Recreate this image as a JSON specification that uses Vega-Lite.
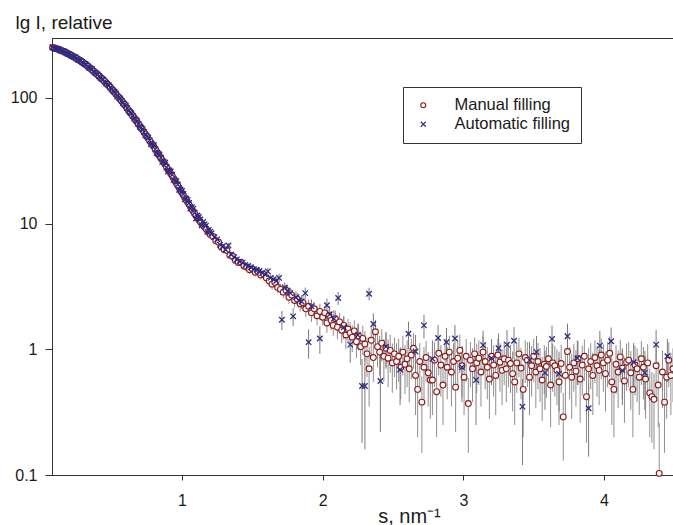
{
  "$schema": "https://vega.github.io/schema/vega-lite/v6.json",
  "width": 621,
  "height": 437,
  "autosize": {"type": "none"},
  "padding": {"left": 52, "top": 38, "right": 0, "bottom": 50},
  "background": "white",
  "config": {
    "font": "Liberation Sans",
    "view": {"stroke": "#333", "strokeWidth": 1},
    "axis": {"grid": false, "domainColor": "#333", "tickColor": "#333", "labelColor": "#1a1a1a", "titleColor": "#1a1a1a", "labelFont": "Liberation Sans", "titleFont": "Liberation Sans", "titleFontWeight": "normal", "labelFontSize": 16, "domainWidth": 1, "tickWidth": 1},
    "legend": {"labelFont": "Liberation Sans"}
  },
  "datasets": {
    "manual": [
      {"s":0.08,"v":252},{"s":0.10,"v":248},{"s":0.12,"v":244},{"s":0.14,"v":239},{"s":0.16,"v":234},{"s":0.18,"v":228},{"s":0.20,"v":222},{"s":0.22,"v":216},{"s":0.24,"v":210},{"s":0.26,"v":203},{"s":0.28,"v":197},{"s":0.30,"v":190},{"s":0.32,"v":183},{"s":0.34,"v":175},{"s":0.36,"v":168},{"s":0.38,"v":160},{"s":0.40,"v":153},{"s":0.42,"v":146},{"s":0.44,"v":139},{"s":0.46,"v":132},{"s":0.48,"v":125},{"s":0.50,"v":118},{"s":0.52,"v":111},{"s":0.54,"v":104},{"s":0.56,"v":98},{"s":0.58,"v":92},{"s":0.60,"v":86},{"s":0.62,"v":80},{"s":0.64,"v":74.5},{"s":0.66,"v":69.5},{"s":0.68,"v":64.5},{"s":0.70,"v":60},{"s":0.72,"v":55.5},{"s":0.74,"v":51.5},{"s":0.76,"v":47.5},{"s":0.78,"v":44},{"s":0.80,"v":41},{"s":0.82,"v":37.5},{"s":0.84,"v":34.5},{"s":0.86,"v":32},{"s":0.88,"v":29.5},{"s":0.90,"v":27},{"s":0.92,"v":25},{"s":0.94,"v":23},{"s":0.96,"v":21},{"s":0.98,"v":19.2},{"s":1.00,"v":17.5},{"s":1.02,"v":16.1},{"s":1.04,"v":14.8},{"s":1.06,"v":13.6},{"s":1.08,"v":12.5},{"s":1.10,"v":11.5},{"s":1.12,"v":10.7},{"s":1.14,"v":10.0},{"s":1.16,"v":9.4},{"s":1.18,"v":8.8},
      {"s":0.09,"v":250},{"s":0.11,"v":246},{"s":0.13,"v":241.5},{"s":0.15,"v":236.5},{"s":0.17,"v":231},{"s":0.19,"v":225},{"s":0.21,"v":219},{"s":0.23,"v":213},{"s":0.25,"v":206.5},{"s":0.27,"v":200},{"s":0.29,"v":193.5},{"s":0.31,"v":186.5},{"s":0.33,"v":179},{"s":0.35,"v":171.5},{"s":0.37,"v":164},{"s":0.39,"v":156.5},{"s":0.41,"v":149.5},{"s":0.43,"v":142.5},{"s":0.45,"v":135.5},{"s":0.47,"v":128.5},{"s":0.49,"v":121.5},{"s":0.51,"v":114.5},{"s":0.53,"v":107.5},{"s":0.55,"v":101},{"s":0.57,"v":95},{"s":0.59,"v":89},{"s":0.61,"v":83},{"s":0.63,"v":77.2},{"s":0.65,"v":72},{"s":0.67,"v":67},{"s":0.69,"v":62.2},{"s":0.71,"v":57.7},{"s":0.73,"v":53.5},{"s":0.75,"v":49.5},{"s":0.77,"v":45.7},{"s":0.79,"v":42.5},{"s":0.81,"v":39.2},{"s":0.83,"v":36},{"s":0.85,"v":33.2},{"s":0.87,"v":30.7},{"s":0.89,"v":28.2},{"s":0.91,"v":26},{"s":0.93,"v":24},{"s":0.95,"v":22},{"s":0.97,"v":20.1},{"s":0.99,"v":18.3},{"s":1.01,"v":16.8},{"s":1.03,"v":15.4},{"s":1.05,"v":14.2},{"s":1.07,"v":13},{"s":1.09,"v":12},{"s":1.11,"v":11.1},{"s":1.13,"v":10.35},{"s":1.15,"v":9.7},{"s":1.17,"v":9.1},{"s":1.19,"v":8.55},
      {"s":1.20,"v":8.2,"lo":7.9,"hi":8.5},{"s":1.22,"v":7.9,"lo":7.6,"hi":8.2},{"s":1.24,"v":7.3,"lo":7.0,"hi":7.6},{"s":1.26,"v":7.1,"lo":6.8,"hi":7.4},{"s":1.28,"v":6.5,"lo":6.2,"hi":6.8},{"s":1.30,"v":6.2,"lo":5.9,"hi":6.5},{"s":1.32,"v":6.1,"lo":5.8,"hi":6.4},{"s":1.34,"v":5.6,"lo":5.3,"hi":5.9},{"s":1.36,"v":5.5,"lo":5.2,"hi":5.8},{"s":1.38,"v":5.1,"lo":4.8,"hi":5.4},{"s":1.40,"v":4.9,"lo":4.6,"hi":5.2},{"s":1.42,"v":4.9,"lo":4.6,"hi":5.2},{"s":1.44,"v":4.6,"lo":4.3,"hi":4.9},{"s":1.46,"v":4.5,"lo":4.2,"hi":4.8},{"s":1.48,"v":4.3,"lo":4.0,"hi":4.6},{"s":1.50,"v":4.35,"lo":4.05,"hi":4.65},{"s":1.52,"v":4.1,"lo":3.8,"hi":4.4},{"s":1.54,"v":4.15,"lo":3.85,"hi":4.45},{"s":1.56,"v":3.9,"lo":3.6,"hi":4.2},{"s":1.58,"v":3.95,"lo":3.65,"hi":4.25},{"s":1.60,"v":3.7,"lo":3.4,"hi":4.0},{"s":1.62,"v":3.5,"lo":3.2,"hi":3.8},{"s":1.64,"v":3.3,"lo":3.0,"hi":3.6},{"s":1.66,"v":3.4,"lo":3.1,"hi":3.7},{"s":1.68,"v":3.1,"lo":2.8,"hi":3.4},{"s":1.70,"v":3.0,"lo":2.7,"hi":3.3},{"s":1.72,"v":2.85,"lo":2.55,"hi":3.15},{"s":1.74,"v":2.95,"lo":2.65,"hi":3.25},{"s":1.76,"v":2.6,"lo":2.3,"hi":2.9},{"s":1.78,"v":2.7,"lo":2.4,"hi":3.0},{"s":1.80,"v":2.45,"lo":2.15,"hi":2.75},{"s":1.82,"v":2.5,"lo":2.2,"hi":2.8},{"s":1.84,"v":2.3,"lo":2.0,"hi":2.6},{"s":1.86,"v":2.35,"lo":2.05,"hi":2.65},{"s":1.88,"v":2.1,"lo":1.8,"hi":2.4},{"s":1.90,"v":2.2,"lo":1.9,"hi":2.5},{"s":1.92,"v":1.95,"lo":1.65,"hi":2.25},{"s":1.94,"v":2.1,"lo":1.8,"hi":2.4},{"s":1.96,"v":1.85,"lo":1.55,"hi":2.15},{"s":1.98,"v":2.0,"lo":1.7,"hi":2.3},
      {"s":2.000,"v":1.80,"lo":1.55,"hi":2.05},{"s":2.015,"v":1.95,"lo":1.7,"hi":2.2},{"s":2.030,"v":1.62,"lo":1.35,"hi":1.89},{"s":2.045,"v":1.85,"lo":1.6,"hi":2.1},{"s":2.060,"v":1.70,"lo":1.42,"hi":1.98},{"s":2.075,"v":1.55,"lo":1.28,"hi":1.82},{"s":2.090,"v":1.75,"lo":1.47,"hi":2.03},{"s":2.105,"v":1.50,"lo":1.2,"hi":1.8},{"s":2.120,"v":1.65,"lo":1.35,"hi":1.95},{"s":2.135,"v":1.42,"lo":1.12,"hi":1.72},{"s":2.150,"v":1.55,"lo":1.25,"hi":1.85},{"s":2.165,"v":1.30,"lo":1.0,"hi":1.6},{"s":2.180,"v":1.45,"lo":1.15,"hi":1.75},{"s":2.195,"v":1.35,"lo":1.05,"hi":1.65},{"s":2.210,"v":1.25,"lo":0.95,"hi":1.55},{"s":2.225,"v":1.40,"lo":1.1,"hi":1.7},{"s":2.240,"v":1.15,"lo":0.85,"hi":1.45},{"s":2.255,"v":1.28,"lo":0.98,"hi":1.58},{"s":2.270,"v":1.05,"lo":0.75,"hi":1.35},{"s":2.285,"v":1.22,"lo":0.9,"hi":1.54},{"s":2.300,"v":1.10,"lo":0.8,"hi":1.4},{"s":2.315,"v":0.92,"lo":0.6,"hi":1.24},{"s":2.330,"v":0.70,"lo":0.35,"hi":1.05},{"s":2.345,"v":1.18,"lo":0.85,"hi":1.51},{"s":2.360,"v":0.86,"lo":0.55,"hi":1.17},{"s":2.375,"v":1.38,"lo":1.05,"hi":1.71},{"s":2.390,"v":1.05,"lo":0.72,"hi":1.38},{"s":2.405,"v":0.95,"lo":0.62,"hi":1.28},{"s":2.420,"v":1.12,"lo":0.8,"hi":1.44},{"s":2.435,"v":0.88,"lo":0.55,"hi":1.21},{"s":2.450,"v":1.02,"lo":0.7,"hi":1.34},{"s":2.465,"v":0.85,"lo":0.5,"hi":1.2},{"s":2.480,"v":0.98,"lo":0.65,"hi":1.31},{"s":2.495,"v":0.78,"lo":0.45,"hi":1.11},{"s":2.510,"v":0.92,"lo":0.6,"hi":1.24},{"s":2.525,"v":0.80,"lo":0.48,"hi":1.12},{"s":2.540,"v":0.88,"lo":0.55,"hi":1.21},{"s":2.555,"v":0.72,"lo":0.4,"hi":1.04},{"s":2.570,"v":0.95,"lo":0.62,"hi":1.28},{"s":2.585,"v":0.76,"lo":0.44,"hi":1.08},{"s":2.600,"v":0.84,"lo":0.5,"hi":1.18},{"s":2.615,"v":0.70,"lo":0.38,"hi":1.02},{"s":2.630,"v":0.90,"lo":0.58,"hi":1.22},{"s":2.645,"v":1.02,"lo":0.7,"hi":1.34},{"s":2.660,"v":0.62,"lo":0.3,"hi":0.94},{"s":2.675,"v":0.48,"lo":0.2,"hi":0.76},{"s":2.690,"v":0.80,"lo":0.48,"hi":1.12},{"s":2.705,"v":0.38,"lo":0.15,"hi":0.61},{"s":2.720,"v":0.72,"lo":0.4,"hi":1.04},{"s":2.735,"v":0.86,"lo":0.55,"hi":1.17},{"s":2.750,"v":0.65,"lo":0.35,"hi":0.95},{"s":2.765,"v":0.57,"lo":0.28,"hi":0.86},{"s":2.780,"v":0.57,"lo":0.3,"hi":0.84},{"s":2.795,"v":0.82,"lo":0.5,"hi":1.14},{"s":2.810,"v":0.46,"lo":0.2,"hi":0.72},{"s":2.825,"v":0.93,"lo":0.62,"hi":1.24},{"s":2.840,"v":0.75,"lo":0.42,"hi":1.08},{"s":2.855,"v":0.52,"lo":0.25,"hi":0.79},{"s":2.870,"v":0.88,"lo":0.55,"hi":1.21},{"s":2.885,"v":0.72,"lo":0.4,"hi":1.04},{"s":2.900,"v":0.95,"lo":0.62,"hi":1.28},{"s":2.915,"v":0.66,"lo":0.35,"hi":0.97},{"s":2.930,"v":0.80,"lo":0.48,"hi":1.12},{"s":2.945,"v":0.50,"lo":0.22,"hi":0.78},{"s":2.960,"v":0.85,"lo":0.52,"hi":1.18},{"s":2.975,"v":0.98,"lo":0.65,"hi":1.31},{"s":2.990,"v":0.74,"lo":0.42,"hi":1.06},{"s":3.005,"v":0.60,"lo":0.3,"hi":0.9},{"s":3.020,"v":0.88,"lo":0.55,"hi":1.21},{"s":3.035,"v":0.37,"lo":0.15,"hi":0.59},{"s":3.050,"v":0.82,"lo":0.5,"hi":1.14},{"s":3.065,"v":0.70,"lo":0.38,"hi":1.02},{"s":3.080,"v":0.92,"lo":0.6,"hi":1.24},{"s":3.095,"v":0.78,"lo":0.45,"hi":1.11},{"s":3.110,"v":0.85,"lo":0.52,"hi":1.18},{"s":3.125,"v":0.66,"lo":0.35,"hi":0.97},{"s":3.140,"v":0.95,"lo":0.62,"hi":1.28},{"s":3.155,"v":0.80,"lo":0.48,"hi":1.12},{"s":3.170,"v":0.72,"lo":0.4,"hi":1.04},{"s":3.185,"v":0.58,"lo":0.28,"hi":0.88},{"s":3.200,"v":0.88,"lo":0.55,"hi":1.21},{"s":3.215,"v":0.75,"lo":0.42,"hi":1.08},{"s":3.230,"v":0.62,"lo":0.3,"hi":0.94},{"s":3.245,"v":0.90,"lo":0.58,"hi":1.22},{"s":3.260,"v":0.79,"lo":0.46,"hi":1.12},{"s":3.275,"v":0.68,"lo":0.36,"hi":1.0},{"s":3.290,"v":0.84,"lo":0.52,"hi":1.16},{"s":3.305,"v":0.70,"lo":0.38,"hi":1.02},{"s":3.320,"v":0.82,"lo":0.5,"hi":1.14},{"s":3.335,"v":0.77,"lo":0.45,"hi":1.09},{"s":3.350,"v":0.64,"lo":0.32,"hi":0.96},{"s":3.365,"v":0.55,"lo":0.25,"hi":0.85},{"s":3.380,"v":0.78,"lo":0.45,"hi":1.11},{"s":3.395,"v":0.92,"lo":0.6,"hi":1.24},{"s":3.410,"v":0.71,"lo":0.4,"hi":1.02},{"s":3.425,"v":0.48,"lo":0.2,"hi":0.76},{"s":3.440,"v":0.86,"lo":0.54,"hi":1.18},{"s":3.455,"v":0.82,"lo":0.5,"hi":1.14},{"s":3.470,"v":0.60,"lo":0.3,"hi":0.9},{"s":3.485,"v":0.74,"lo":0.42,"hi":1.06},{"s":3.500,"v":0.88,"lo":0.55,"hi":1.21},{"s":3.515,"v":0.66,"lo":0.34,"hi":0.98},{"s":3.530,"v":0.80,"lo":0.48,"hi":1.12},{"s":3.545,"v":0.70,"lo":0.38,"hi":1.02},{"s":3.560,"v":0.57,"lo":0.27,"hi":0.87},{"s":3.575,"v":0.76,"lo":0.44,"hi":1.08},{"s":3.590,"v":0.73,"lo":0.41,"hi":1.05},{"s":3.605,"v":0.84,"lo":0.52,"hi":1.16},{"s":3.620,"v":0.52,"lo":0.24,"hi":0.8},{"s":3.635,"v":0.78,"lo":0.46,"hi":1.1},{"s":3.650,"v":0.74,"lo":0.42,"hi":1.06},{"s":3.665,"v":0.68,"lo":0.36,"hi":1.0},{"s":3.680,"v":0.55,"lo":0.25,"hi":0.85},{"s":3.695,"v":0.77,"lo":0.45,"hi":1.09},{"s":3.710,"v":0.29,"lo":0.13,"hi":0.45},{"s":3.725,"v":0.62,"lo":0.3,"hi":0.94},{"s":3.740,"v":0.96,"lo":0.64,"hi":1.28},{"s":3.755,"v":0.72,"lo":0.4,"hi":1.04},{"s":3.770,"v":0.60,"lo":0.28,"hi":0.92},{"s":3.785,"v":0.78,"lo":0.46,"hi":1.1},{"s":3.800,"v":0.67,"lo":0.35,"hi":0.99},{"s":3.815,"v":0.84,"lo":0.52,"hi":1.16},{"s":3.830,"v":0.58,"lo":0.26,"hi":0.9},{"s":3.845,"v":0.75,"lo":0.43,"hi":1.07},{"s":3.860,"v":0.88,"lo":0.56,"hi":1.2},{"s":3.875,"v":0.42,"lo":0.18,"hi":0.66},{"s":3.890,"v":0.70,"lo":0.38,"hi":1.02},{"s":3.905,"v":0.80,"lo":0.48,"hi":1.12},{"s":3.920,"v":0.62,"lo":0.3,"hi":0.94},{"s":3.935,"v":0.86,"lo":0.54,"hi":1.18},{"s":3.950,"v":0.74,"lo":0.42,"hi":1.06},{"s":3.965,"v":0.68,"lo":0.36,"hi":1.0},{"s":3.980,"v":0.90,"lo":0.58,"hi":1.22},{"s":3.995,"v":0.78,"lo":0.46,"hi":1.1},{"s":4.010,"v":0.64,"lo":0.32,"hi":0.96},{"s":4.025,"v":0.82,"lo":0.5,"hi":1.14},{"s":4.040,"v":0.93,"lo":0.6,"hi":1.26},{"s":4.055,"v":0.55,"lo":0.25,"hi":0.85},{"s":4.070,"v":0.48,"lo":0.2,"hi":0.76},{"s":4.085,"v":0.76,"lo":0.44,"hi":1.08},{"s":4.100,"v":0.66,"lo":0.34,"hi":0.98},{"s":4.115,"v":0.87,"lo":0.55,"hi":1.19},{"s":4.130,"v":0.71,"lo":0.4,"hi":1.02},{"s":4.145,"v":0.56,"lo":0.26,"hi":0.86},{"s":4.160,"v":0.79,"lo":0.47,"hi":1.11},{"s":4.175,"v":0.82,"lo":0.5,"hi":1.14},{"s":4.190,"v":0.65,"lo":0.33,"hi":0.97},{"s":4.205,"v":0.48,"lo":0.2,"hi":0.76},{"s":4.220,"v":0.75,"lo":0.43,"hi":1.07},{"s":4.235,"v":0.70,"lo":0.38,"hi":1.02},{"s":4.250,"v":0.60,"lo":0.3,"hi":0.9},{"s":4.265,"v":0.84,"lo":0.52,"hi":1.16},{"s":4.280,"v":0.72,"lo":0.4,"hi":1.04},{"s":4.295,"v":0.58,"lo":0.28,"hi":0.88},{"s":4.310,"v":0.78,"lo":0.46,"hi":1.1},{"s":4.325,"v":0.45,"lo":0.2,"hi":0.7},{"s":4.340,"v":0.42,"lo":0.18,"hi":0.66},{"s":4.355,"v":0.40,"lo":0.16,"hi":0.64},{"s":4.370,"v":0.74,"lo":0.42,"hi":1.06},{"s":4.385,"v":0.52,"lo":0.24,"hi":0.8},{"s":4.392,"v":0.103,"lo":0.1,"hi":0.26},{"s":4.415,"v":0.66,"lo":0.34,"hi":0.98},{"s":4.430,"v":0.38,"lo":0.15,"hi":0.61},{"s":4.445,"v":0.60,"lo":0.28,"hi":0.92},{"s":4.460,"v":0.82,"lo":0.5,"hi":1.14},{"s":4.475,"v":0.62,"lo":0.3,"hi":0.94},{"s":4.490,"v":0.70,"lo":0.38,"hi":1.02}
    ],
    "auto": [
      {"s":0.08,"v":253},{"s":0.10,"v":247},{"s":0.12,"v":245},{"s":0.14,"v":238},{"s":0.16,"v":235},{"s":0.18,"v":227},{"s":0.20,"v":223},{"s":0.22,"v":215},{"s":0.24,"v":211},{"s":0.26,"v":202},{"s":0.28,"v":198},{"s":0.30,"v":189},{"s":0.32,"v":184},{"s":0.34,"v":174},{"s":0.36,"v":169},{"s":0.38,"v":159},{"s":0.40,"v":154},{"s":0.42,"v":145},{"s":0.44,"v":140},{"s":0.46,"v":131},{"s":0.48,"v":126},{"s":0.50,"v":117},{"s":0.52,"v":112},{"s":0.54,"v":103},{"s":0.56,"v":99},{"s":0.58,"v":91},{"s":0.60,"v":87},{"s":0.62,"v":79},{"s":0.64,"v":75.5},{"s":0.66,"v":68.5},{"s":0.68,"v":65.5},{"s":0.70,"v":59},{"s":0.72,"v":56.5},{"s":0.74,"v":50.5},{"s":0.76,"v":48.5},{"s":0.78,"v":43},{"s":0.80,"v":42},{"s":0.82,"v":36.5},{"s":0.84,"v":35.5},{"s":0.86,"v":31},{"s":0.88,"v":30.5},{"s":0.90,"v":26},{"s":0.92,"v":26},{"s":0.94,"v":22.3},{"s":0.96,"v":21.8},{"s":0.98,"v":18.6},{"s":1.00,"v":18.2},{"s":1.02,"v":15.6},{"s":1.04,"v":15.4},{"s":1.06,"v":13.2},{"s":1.08,"v":13.1},{"s":1.10,"v":11.0},{"s":1.12,"v":11.3},{"s":1.14,"v":9.7},{"s":1.16,"v":9.9},{"s":1.18,"v":8.6},{"s":1.20,"v":8.6},
      {"s":0.09,"v":250},{"s":0.11,"v":246},{"s":0.13,"v":242},{"s":0.15,"v":236},{"s":0.17,"v":231},{"s":0.19,"v":225},{"s":0.21,"v":219},{"s":0.23,"v":213},{"s":0.25,"v":206},{"s":0.27,"v":200},{"s":0.29,"v":193},{"s":0.31,"v":186},{"s":0.33,"v":179},{"s":0.35,"v":172},{"s":0.37,"v":164},{"s":0.39,"v":157},{"s":0.41,"v":149},{"s":0.43,"v":142},{"s":0.45,"v":135},{"s":0.47,"v":128},{"s":0.49,"v":121},{"s":0.51,"v":114},{"s":0.53,"v":108},{"s":0.55,"v":101},{"s":0.57,"v":95},{"s":0.59,"v":89},{"s":0.61,"v":83},{"s":0.63,"v":77},{"s":0.65,"v":72},{"s":0.67,"v":67},{"s":0.69,"v":62},{"s":0.71,"v":58},{"s":0.73,"v":53.5},{"s":0.75,"v":49.5},{"s":0.77,"v":46},{"s":0.79,"v":42.5},{"s":0.81,"v":39},{"s":0.83,"v":36},{"s":0.85,"v":33.5},{"s":0.87,"v":31},{"s":0.89,"v":28},{"s":0.91,"v":26.5},{"s":0.93,"v":24.5},{"s":0.95,"v":22},{"s":0.97,"v":20.5},{"s":0.99,"v":18.5},{"s":1.01,"v":17.2},{"s":1.03,"v":15.8},{"s":1.05,"v":14.6},{"s":1.07,"v":13.5},{"s":1.09,"v":12.2},{"s":1.11,"v":11.6},{"s":1.13,"v":10.8},{"s":1.15,"v":10.3},{"s":1.17,"v":9.6},{"s":1.19,"v":8.9},
      {"s":1.21,"v":8.4,"lo":8.15,"hi":8.65},{"s":1.23,"v":7.8,"lo":7.55,"hi":8.05},{"s":1.25,"v":7.5,"lo":7.25,"hi":7.75},{"s":1.27,"v":6.8,"lo":6.55,"hi":7.05},{"s":1.29,"v":6.6,"lo":6.35,"hi":6.85},{"s":1.31,"v":6.2,"lo":5.95,"hi":6.45},{"s":1.33,"v":6.7,"lo":6.4,"hi":7.0},{"s":1.35,"v":5.7,"lo":5.45,"hi":5.95},{"s":1.37,"v":5.4,"lo":5.15,"hi":5.65},{"s":1.39,"v":5.2,"lo":4.95,"hi":5.45},{"s":1.41,"v":5.0,"lo":4.75,"hi":5.25},{"s":1.43,"v":4.9,"lo":4.65,"hi":5.15},{"s":1.45,"v":4.7,"lo":4.45,"hi":4.95},{"s":1.47,"v":4.6,"lo":4.35,"hi":4.85},{"s":1.49,"v":4.5,"lo":4.25,"hi":4.75},{"s":1.51,"v":4.35,"lo":4.1,"hi":4.6},{"s":1.53,"v":4.3,"lo":4.05,"hi":4.55},{"s":1.55,"v":4.2,"lo":3.95,"hi":4.45},{"s":1.57,"v":4.05,"lo":3.8,"hi":4.3},{"s":1.59,"v":3.95,"lo":3.7,"hi":4.2},{"s":1.61,"v":4.17,"lo":3.9,"hi":4.45},{"s":1.63,"v":3.7,"lo":3.45,"hi":3.95},{"s":1.65,"v":3.6,"lo":3.35,"hi":3.85},{"s":1.67,"v":3.5,"lo":3.25,"hi":3.75},{"s":1.69,"v":3.7,"lo":3.4,"hi":4.0},{"s":1.71,"v":1.72,"lo":1.42,"hi":2.02},{"s":1.73,"v":3.1,"lo":2.8,"hi":3.4},{"s":1.75,"v":2.9,"lo":2.6,"hi":3.2},{"s":1.77,"v":2.8,"lo":2.5,"hi":3.1},{"s":1.79,"v":1.83,"lo":1.53,"hi":2.13},{"s":1.81,"v":2.6,"lo":2.3,"hi":2.9},{"s":1.83,"v":2.45,"lo":2.15,"hi":2.75},{"s":1.85,"v":2.4,"lo":2.1,"hi":2.7},{"s":1.876,"v":2.8,"lo":2.5,"hi":3.1},{"s":1.90,"v":1.14,"lo":0.84,"hi":1.44},{"s":1.92,"v":2.2,"lo":1.9,"hi":2.5},{"s":1.98,"v":1.22,"lo":0.92,"hi":1.52},{"s":2.03,"v":2.24,"lo":1.94,"hi":2.54},{"s":2.05,"v":1.9,"lo":1.6,"hi":2.2},{"s":2.08,"v":1.75,"lo":1.45,"hi":2.05},{"s":2.11,"v":2.56,"lo":2.26,"hi":2.86},{"s":2.15,"v":1.5,"lo":1.2,"hi":1.8},{"s":2.196,"v":1.09,"lo":0.78,"hi":1.4},{"s":2.25,"v":1.3,"lo":1.0,"hi":1.6},{"s":2.28,"v":0.51,"lo":0.18,"hi":0.84},{"s":2.30,"v":0.51,"lo":0.16,"hi":0.86},{"s":2.33,"v":2.77,"lo":2.45,"hi":3.09},{"s":2.36,"v":1.59,"lo":1.25,"hi":1.93},{"s":2.41,"v":0.56,"lo":0.22,"hi":0.9},{"s":2.45,"v":1.05,"lo":0.72,"hi":1.38},{"s":2.55,"v":0.69,"lo":0.36,"hi":1.02},{"s":2.61,"v":1.33,"lo":1.0,"hi":1.66},{"s":2.66,"v":0.96,"lo":0.62,"hi":1.3},{"s":2.72,"v":1.55,"lo":1.22,"hi":1.88},{"s":2.78,"v":0.84,"lo":0.5,"hi":1.18},{"s":2.82,"v":1.23,"lo":0.9,"hi":1.56},{"s":2.88,"v":1.14,"lo":0.8,"hi":1.48},{"s":2.94,"v":1.22,"lo":0.88,"hi":1.56},{"s":2.99,"v":0.72,"lo":0.38,"hi":1.06},{"s":3.09,"v":0.57,"lo":0.25,"hi":0.89},{"s":3.14,"v":1.08,"lo":0.75,"hi":1.41},{"s":3.20,"v":0.85,"lo":0.52,"hi":1.18},{"s":3.25,"v":1.02,"lo":0.7,"hi":1.34},{"s":3.31,"v":1.09,"lo":0.76,"hi":1.42},{"s":3.36,"v":1.17,"lo":0.84,"hi":1.5},{"s":3.42,"v":0.35,"lo":0.12,"hi":0.58},{"s":3.47,"v":0.82,"lo":0.5,"hi":1.14},{"s":3.52,"v":0.95,"lo":0.62,"hi":1.28},{"s":3.58,"v":0.65,"lo":0.33,"hi":0.97},{"s":3.63,"v":1.21,"lo":0.88,"hi":1.54},{"s":3.68,"v":0.64,"lo":0.32,"hi":0.96},{"s":3.74,"v":1.27,"lo":0.94,"hi":1.6},{"s":3.81,"v":0.85,"lo":0.52,"hi":1.18},{"s":3.89,"v":0.34,"lo":0.14,"hi":0.54},{"s":3.97,"v":1.07,"lo":0.74,"hi":1.4},{"s":4.05,"v":1.16,"lo":0.83,"hi":1.49},{"s":4.13,"v":0.68,"lo":0.36,"hi":1.0},{"s":4.21,"v":0.79,"lo":0.46,"hi":1.12},{"s":4.29,"v":0.65,"lo":0.33,"hi":0.97},{"s":4.37,"v":1.09,"lo":0.76,"hi":1.42},{"s":4.45,"v":0.88,"lo":0.55,"hi":1.21}
    ]
  },
  "layer": [
    {
      "data": {"name": "manual"},
      "transform": [{"filter": "isValid(datum.lo)"}],
      "mark": {"type": "rule", "color": "#8e8e8e", "strokeWidth": 1},
      "encoding": {
        "x": {"field": "s", "type": "quantitative", "scale": {"domain": [0.076, 4.49], "nice": false, "zero": false}, "axis": {"title": "s, nm⁻¹", "values": [1, 2, 3, 4], "format": "d", "tickSize": 5, "labelPadding": 12, "titleFontSize": 20, "titleX": 357, "titleY": 47, "titleBaseline": "alphabetic", "titleAlign": "center"}},
        "y": {"field": "lo", "type": "quantitative", "scale": {"type": "log", "domain": [0.1, 300], "nice": false}, "axis": {"title": "lg I, relative", "values": [0.1, 1, 10, 100], "format": "~g", "tickSize": 7, "labelPadding": 8, "titleAngle": 0, "titleAlign": "left", "titleBaseline": "alphabetic", "titleX": -37, "titleY": -10, "titleFontSize": 19}},
        "y2": {"field": "hi"}
      }
    },
    {
      "data": {"name": "auto"},
      "transform": [{"filter": "isValid(datum.lo)"}],
      "mark": {"type": "rule", "color": "#7a7a7a", "strokeWidth": 1},
      "encoding": {
        "x": {"field": "s", "type": "quantitative"},
        "y": {"field": "lo", "type": "quantitative"},
        "y2": {"field": "hi"}
      }
    },
    {
      "data": {"name": "manual"},
      "mark": {"type": "point", "filled": false, "fill": "white", "strokeWidth": 1.1, "size": 34, "opacity": 1},
      "encoding": {
        "x": {"field": "s", "type": "quantitative"},
        "y": {"field": "v", "type": "quantitative"},
        "color": {"datum": "Manual filling", "scale": {"domain": ["Manual filling", "Automatic filling"], "range": ["#8b1a1a", "#2c2c86"]}, "legend": {"title": null, "orient": "none", "legendX": 351, "legendY": 49, "strokeColor": "#333", "fillColor": "white", "padding": 10, "symbolSize": 25, "symbolStrokeWidth": 1.1, "labelFontSize": 16.5, "labelColor": "#1a1a1a", "rowPadding": 2, "symbolOffset": 2, "labelOffset": 23}},
        "shape": {"datum": "Manual filling", "scale": {"domain": ["Manual filling", "Automatic filling"], "range": ["circle", "M-1,-1L1,1M-1,1L1,-1"]}, "legend": {"title": null, "orient": "none", "legendX": 351, "legendY": 49, "strokeColor": "#333", "fillColor": "white", "padding": 10, "symbolSize": 25, "symbolStrokeWidth": 1.1, "labelFontSize": 16.5, "labelColor": "#1a1a1a", "rowPadding": 2, "symbolOffset": 2, "labelOffset": 23}}
      }
    },
    {
      "data": {"name": "auto"},
      "mark": {"type": "point", "filled": false, "strokeWidth": 1.3, "size": 30, "opacity": 1},
      "encoding": {
        "x": {"field": "s", "type": "quantitative"},
        "y": {"field": "v", "type": "quantitative"},
        "color": {"datum": "Automatic filling"},
        "shape": {"datum": "Automatic filling"}
      }
    }
  ]
}
